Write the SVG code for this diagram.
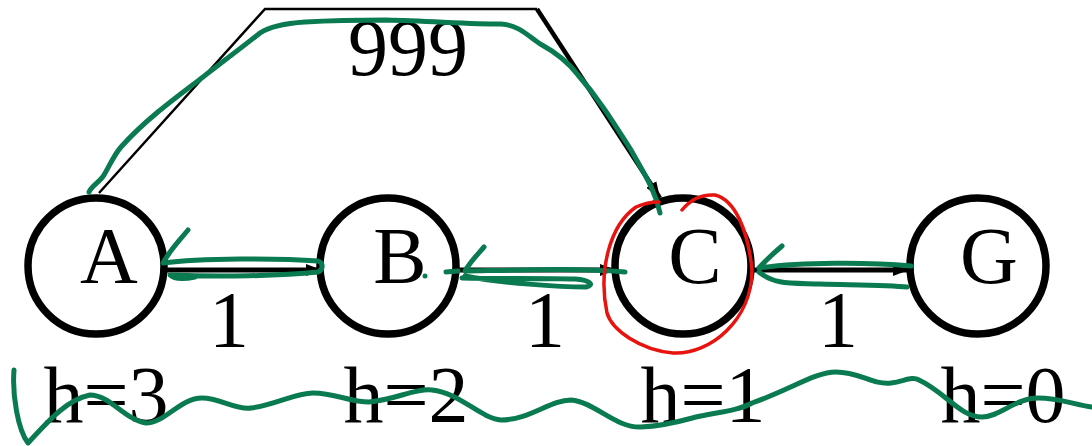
<svg xmlns="http://www.w3.org/2000/svg" width="1092" height="446" viewBox="0 0 1092 446">
<style>
.node{fill:#fff;stroke:#000;stroke-width:7.5}
.lbl{font-family:"Liberation Serif","Times New Roman",serif;font-size:80px;fill:#000;text-anchor:middle}
.edge{stroke:#000;fill:none}
.green{stroke:#0a7a50;stroke-width:5;fill:none;stroke-linecap:round;stroke-linejoin:round}
.red{stroke:#e8130f;stroke-width:3.5;fill:none;stroke-linecap:round}
</style>
<defs>
<marker id="arr" markerUnits="userSpaceOnUse" markerWidth="20" markerHeight="16" refX="16" refY="8" orient="auto">
<path d="M0,2 L16,8 L0,14 Z" fill="#000"/>
</marker>
</defs>
<rect width="1092" height="446" fill="#fff"/>
<g id="connectors">
<polyline class="edge" points="99,193 265,9 537,9" stroke-width="2.5"/>
<line class="edge" x1="537" y1="9" x2="660" y2="198" stroke-width="4.5" marker-end="url(#arr)"/>
<line class="edge" x1="165" y1="270" x2="322" y2="270" stroke-width="5" marker-end="url(#arr)"/>
<line class="edge" x1="455" y1="270" x2="616" y2="270" stroke-width="5" marker-end="url(#arr)"/>
<line class="edge" x1="752" y1="270" x2="909" y2="270" stroke-width="5" marker-end="url(#arr)"/>
<text class="lbl" x="408" y="75">999</text>
<text class="lbl" x="229" y="347">1</text>
<text class="lbl" x="545" y="347">1</text>
<text class="lbl" x="838" y="347">1</text>
</g>
<g id="node-A">
<circle class="node" cx="96" cy="266" r="68"/>
<text class="lbl" x="109" y="283">A</text>
<text class="lbl" x="106" y="422">h=3</text>
</g>
<g id="node-B">
<circle class="node" cx="388" cy="266" r="68"/>
<text class="lbl" x="400" y="283">B</text>
<text class="lbl" x="406" y="422">h=2</text>
</g>
<g id="node-C">
<circle class="node" cx="683" cy="266" r="68"/>
<text class="lbl" x="695" y="283">C</text>
<text class="lbl" x="703" y="422">h=1</text>
</g>
<g id="node-G">
<circle class="node" cx="978" cy="266" r="68"/>
<text class="lbl" x="989" y="283">G</text>
<text class="lbl" x="1003" y="422">h=0</text>
</g>
<g id="annotations">
<path class="green" d="M89,192 C92,185 100,182 104,175 C110,165 114,155 121,147 C145,120 175,98 203,77 C225,60 245,45 260,33 C272,25 290,23 305,22 C340,20 370,20 386,20 C430,21 470,24 501,24 C520,25 530,38 542,45 C555,52 568,62 578,75 C600,100 615,125 631,150 C645,175 655,190 660,213"/>
<path class="green" d="M188,230 C180,240 170,250 163,263 C200,258 280,258 318,261 C324,263 323,270 318,272 C280,276 220,277 170,275 C175,280 185,279 195,277"/>
<path class="green" d="M484,247 C478,254 470,262 465,271 C520,270 580,268 625,272 M465,276 C500,283 560,287 586,287 C595,285 590,280 575,279 C540,278 500,279 462,278"/>
<circle cx="425" cy="276" r="2.5" fill="#0a7a50"/>
<path class="green" d="M446,272 L458,271"/>
<path class="green" d="M782,246 C775,252 766,260 759,268 C800,262 870,262 911,266 M759,272 C775,285 790,283 820,284 C860,285 890,285 907,287"/>
<path class="red" d="M682,210 C690,200 700,194 715,195 C735,200 748,230 752,270 C752,320 710,355 673,353 C640,350 612,330 607,313 C598,270 610,225 636,207 C645,203 652,202 659,202"/>
<path class="green" d="M14,370 C12,395 18,430 28,443 C45,425 65,400 90,395 C110,395 125,420 146,423 C165,423 180,398 202,398 C220,398 235,410 251,408 C275,405 295,393 313,393 C335,393 350,402 369,402 C395,400 415,388 432,390 C460,393 480,418 501,420 C530,420 550,400 571,400 C595,402 615,428 641,427 C665,426 685,420 696,417 C720,412 740,410 752,403 C790,390 815,372 836,372 C860,372 872,385 891,383 C905,381 912,376 919,380 C945,392 960,417 982,417 C1000,417 1015,398 1038,398 C1060,398 1075,405 1092,407"/>
</g>
</svg>
